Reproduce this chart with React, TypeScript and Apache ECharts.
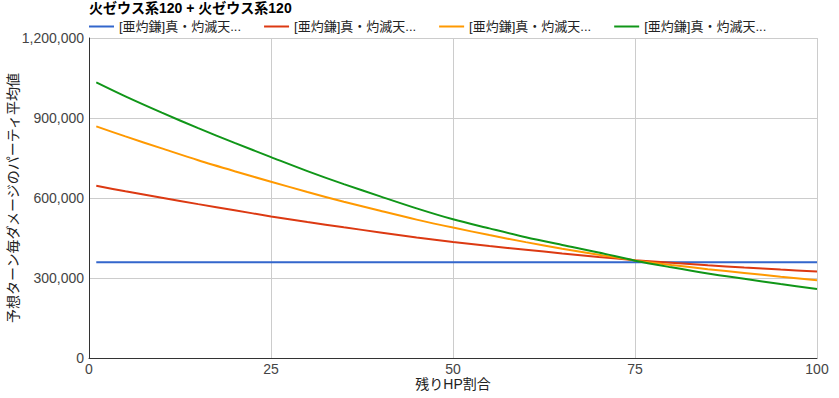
import React, { useEffect, useRef } from "react";
import * as echarts from "echarts";

const titleText = "火ゼウス系120 + 火ゼウス系120";
const xAxisName = "残りHP割合";
const yAxisName = "予想ターン毎ダメージのパーティ平均値";
const legendLabel = "[亜灼鎌]真・灼滅天...";

const hpPercent = [1, 5, 10, 15, 20, 25, 30, 35, 40, 45, 50, 55, 60, 65, 70, 75, 80, 85, 90, 95, 100];

const blueValues = [359000, 359000, 359000, 359000, 359000, 359000, 359000, 359000, 359000, 359000, 359000, 359000, 359000, 359000, 359000, 359000, 359000, 359000, 359000, 359000, 359000];
const redValues = [646000, 625000, 601000, 577000, 554000, 531000, 510000, 490000, 471000, 452000, 435000, 420000, 406000, 392000, 379000, 367000, 357000, 347500, 339000, 331500, 324500];
const orangeValues = [868500, 831000, 786000, 741500, 700500, 661000, 622500, 586000, 552000, 519000, 489000, 461000, 434500, 410000, 387000, 366000, 349000, 333000, 319000, 305000, 292000];
const greenValues = [1033500, 981000, 920000, 862000, 806500, 753500, 701000, 652000, 606000, 561000, 520000, 486000, 453000, 424000, 396000, 365000, 340000, 317000, 297000, 277500, 259000];

const seriesKeys = ["s1", "s2", "s3", "s4"];
const seriesColors = ["#3366cc", "#dc3912", "#ff9900", "#109618"];
const seriesValues = [blueValues, redValues, orangeValues, greenValues];

const yTicks = { min: 0, max: 1200000, interval: 300000 };
const xTicks = { min: 0, max: 100, interval: 25 };

const FONT = "'Liberation Sans', Arial, 'Noto Sans CJK JP', sans-serif";

export default function App() {
  const ref = useRef<HTMLDivElement>(null);
  useEffect(() => {
    if (!ref.current) return;
    const chart = echarts.init(ref.current, undefined, { renderer: "svg" });
    chart.setOption({
      animation: false,
      textStyle: { fontFamily: FONT },
      title: {
        text: titleText,
        left: 89,
        top: 1,
        padding: 0,
        textStyle: { fontFamily: FONT, fontSize: 14, fontWeight: "bold", color: "#000" },
      },
      legend: {
        left: 89,
        top: 20,
        padding: 0,
        itemGap: 23,
        itemWidth: 25,
        itemHeight: 2,
        icon: "rect",
        data: seriesKeys,
        formatter: () => legendLabel,
        textStyle: { fontFamily: FONT, fontSize: 13, color: "#222", width: 125 },
      },
      grid: { left: 89, right: 22, top: 38, bottom: 40, containLabel: false, outerBoundsMode: "none" },
      xAxis: {
        type: "value",
        min: xTicks.min,
        max: xTicks.max,
        interval: xTicks.interval,
        name: xAxisName,
        nameLocation: "middle",
        nameGap: 19,
        nameMoveOverlap: false,
        nameTextStyle: { fontFamily: FONT, fontSize: 14, color: "#222" },
        axisLine: { show: true, onZero: false, lineStyle: { color: "#333", width: 1 } },
        axisTick: { show: false },
        axisLabel: { margin: 4, fontFamily: FONT, fontSize: 14, color: "#444" },
        splitLine: { show: true, lineStyle: { color: "#cccccc", width: 1 } },
      },
      yAxis: {
        type: "value",
        min: yTicks.min,
        max: yTicks.max,
        interval: yTicks.interval,
        name: yAxisName,
        nameLocation: "middle",
        nameGap: 69,
        nameMoveOverlap: false,
        nameTextStyle: { fontFamily: FONT, fontSize: 14, color: "#222" },
        axisLine: { show: true, lineStyle: { color: "#333", width: 1 } },
        axisTick: { show: false },
        axisLabel: {
          margin: 5,
          fontFamily: FONT,
          fontSize: 14,
          color: "#444",
          formatter: (v: number) => v.toLocaleString("en-US"),
        },
        splitLine: { show: true, lineStyle: { color: "#cccccc", width: 1 } },
      },
      series: seriesKeys.map((k, i) => ({
        name: k,
        type: "line",
        smooth: 0.3,
        showSymbol: false,
        symbol: "none",
        color: seriesColors[i],
        lineStyle: { width: 2, color: seriesColors[i] },
        data: hpPercent.map((x, j) => [x, seriesValues[i][j]]),
      })),
    });
    return () => chart.dispose();
  }, []);
  return <div ref={ref} style={{ width: 839, height: 398, position: "absolute", left: 0, top: 0 }} />;
}
